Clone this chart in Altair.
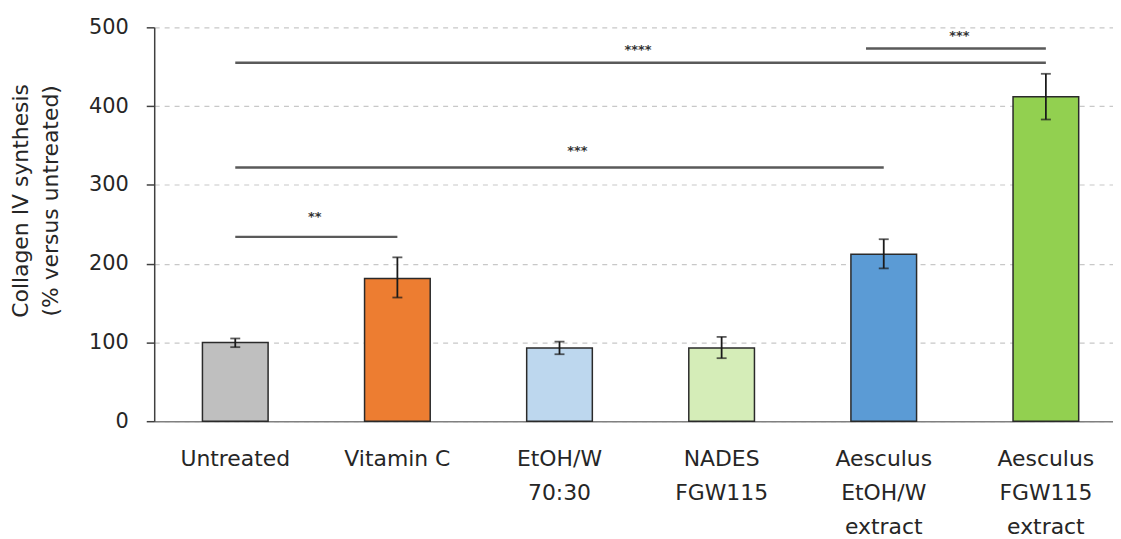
import altair as alt
import pandas as pd

categories = ["Untreated", "Vitamin C", "EtOH/W|70:30", "NADES|FGW115",
              "Aesculus|EtOH/W|extract", "Aesculus|FGW115|extract"]
values = [100, 181, 93, 93, 212, 412]
err_low = [94, 157, 85, 80, 194, 383]
err_high = [105, 208, 101, 107, 231, 441]
colors = ["#BFBFBF", "#ED7D31", "#BDD7EE", "#D5EDB8", "#5B9BD5", "#92D050"]

sig_start = [categories[0], categories[0], categories[0], categories[4]]
sig_end = [categories[1], categories[4], categories[5], categories[5]]
sig_y = [234, 322, 455, 473]
sig_start_pos = [0.5, 0.5, 0.5, 0.23]

sig_labels = ["**", "***", "****", "***"]
sig_label_y = [259, 343, 471, 489]
sig_label_cat = [categories[0], categories[2], categories[2], categories[4]]
sig_label_dx = [80, 18, 79, 76]

FONT = "DejaVu Sans"

df = pd.DataFrame({"cat": categories, "value": values, "lo": err_low,
                   "hi": err_high, "color": colors})

xscale = alt.Scale(domain=categories, range=[0, 978], paddingInner=0.595, paddingOuter=0.2975)
x = alt.X("cat:N", scale=xscale, sort=categories, title=None,
          axis=alt.Axis(labelAngle=0, labelExpr="split(datum.label, '|')",
                        labelFont=FONT, labelFontSize=22, labelColor="#262626",
                        labelLineHeight=34, labelBaseline="top", labelPadding=28,
                        ticks=False, domainColor="#808080", domainWidth=1.5,
                        grid=False))
y = alt.Y("value:Q", scale=alt.Scale(domain=[0, 500], nice=False),
          title=["Collagen IV synthesis", "(% versus untreated)"],
          axis=alt.Axis(values=[0, 100, 200, 300, 400, 500], labelFont=FONT,
                        labelFontSize=21, labelColor="#262626", labelPadding=18,
                        tickSize=8, tickColor="#404040", tickWidth=1.5,
                        domainColor="#404040", domainWidth=1.5,
                        titleFont=FONT, titleFontSize=22, titleFontWeight="normal",
                        titleColor="#262626", titleLineHeight=30, titlePadding=26,
                        titleY=174,
                        grid=True, gridColor="#c8c8c8", gridDash=[5, 5], gridWidth=1.2))

bars = alt.Chart(df).mark_bar(stroke="#2a2a2a", strokeWidth=1.5).encode(
    x=x, y=y, color=alt.Color("color:N", scale=None))

err = alt.Chart(df).mark_rule(color="#1a1a1a", strokeWidth=1.8).encode(
    x=alt.X("cat:N", scale=xscale, sort=categories), y="lo:Q", y2="hi:Q")
cap_lo = alt.Chart(df).mark_tick(color="#1a1a1a", size=10, thickness=1.8).encode(
    x=alt.X("cat:N", scale=xscale, sort=categories), y="lo:Q")
cap_hi = alt.Chart(df).mark_tick(color="#1a1a1a", size=10, thickness=1.8).encode(
    x=alt.X("cat:N", scale=xscale, sort=categories), y="hi:Q")

layers = [bars, err, cap_lo, cap_hi]

for s, e, yy, bp in zip(sig_start, sig_end, sig_y, sig_start_pos):
    d = pd.DataFrame({"s": [s], "e": [e], "y": [yy]})
    layers.append(alt.Chart(d).mark_rule(color="#5a5a5a", strokeWidth=2.5).encode(
        x=alt.X("s:N", scale=xscale, sort=categories, bandPosition=bp),
        x2=alt.X2("e:N"), y="y:Q"))

for lab, ly, lc, dx in zip(sig_labels, sig_label_y, sig_label_cat, sig_label_dx):
    d = pd.DataFrame({"t": [lab], "c": [lc], "y": [ly]})
    layers.append(alt.Chart(d).mark_text(font=FONT, fontSize=13, fontWeight="bold",
                                         color="#333333", dx=dx, baseline="middle").encode(
        x=alt.X("c:N", scale=xscale, sort=categories), y="y:Q", text="t:N"))

chart = alt.layer(*layers).properties(
    width=964, height=396,
    autosize=alt.AutoSizeParams(type="none"),
    padding={"left": 147, "top": 18, "right": 0, "bottom": 117},
).configure_view(stroke=None)

chart.save("out.html", embed_options={"renderer": "svg", "actions": False})
